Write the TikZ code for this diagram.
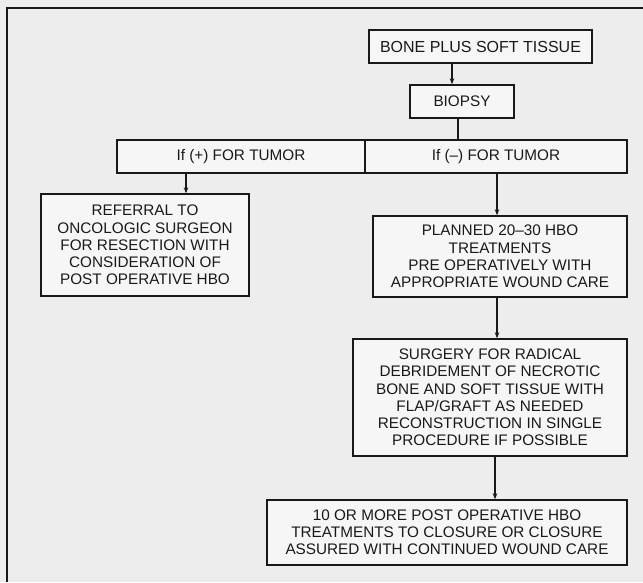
\documentclass[tikz,border=0pt]{standalone}
\usepackage{fontspec}
\setmainfont{Liberation Sans}
\usetikzlibrary{arrows.meta}
\definecolor{pagebg}{gray}{0.93}
\definecolor{boxbg}{gray}{0.965}
\definecolor{ink}{gray}{0.1}
\tikzset{
  flowbox/.style={draw=ink, line width=1.4pt, fill=boxbg, text=ink, align=center,
    inner sep=0pt, font=\fontsize{15.3}{17.2}\selectfont},
  link/.style={draw=ink, line width=1.4pt},
  arr/.style={link, -{Stealth[length=6pt,width=4.5pt]}},
}
\begin{document}
\begin{tikzpicture}[x=1pt,y=-1pt]
\fill[pagebg] (0,0) rectangle (643,582);
\useasboundingbox (0,0) rectangle (643,582);
% page frame (left and top edges visible)
\draw[ink, line width=1.5pt] (643,8) -- (7,8) -- (7,582);

\node[flowbox, minimum width=223pt, minimum height=33pt, font=\fontsize{16}{18}\selectfont] (bone) at (480.5,46.5) {BONE PLUS SOFT TISSUE};
\node[flowbox, minimum width=104pt, minimum height=33pt] (biopsy) at (462,101.5) {BIOPSY};
\node[flowbox, minimum width=248pt, minimum height=33pt] (plus) at (241,156.5) {If (+) FOR TUMOR};
\node[flowbox, minimum width=262pt, minimum height=33pt] (minus) at (496,156.5) {If (--) FOR TUMOR};
\node[flowbox, minimum width=208pt, minimum height=102pt] (referral) at (145,245)
  {REFERRAL TO\\ONCOLOGIC SURGEON\\FOR RESECTION WITH\\CONSIDERATION OF\\POST OPERATIVE HBO};
\node[flowbox, minimum width=254pt, minimum height=81pt] (planned) at (500,256.5)
  {PLANNED 20--30 HBO\\TREATMENTS\\PRE OPERATIVELY WITH\\APPROPRIATE WOUND CARE};
\node[flowbox, minimum width=274pt, minimum height=117pt] (surgery) at (490,397.5)
  {SURGERY FOR RADICAL\\DEBRIDEMENT OF NECROTIC\\BONE AND SOFT TISSUE WITH\\FLAP/GRAFT AS NEEDED\\RECONSTRUCTION IN SINGLE\\PROCEDURE IF POSSIBLE};
\node[flowbox, minimum width=360pt, minimum height=65pt] (final) at (447,532.5)
  {10 OR MORE POST OPERATIVE HBO\\TREATMENTS TO CLOSURE OR CLOSURE\\ASSURED WITH CONTINUED WOUND CARE};

% connector columns
\coordinate (xa) at (452,0);
\coordinate (xb) at (458,0);
\coordinate (xc) at (186,0);
\coordinate (xd) at (497,0);
\coordinate (xe) at (495,0);

\draw[arr] (bone.south -| xa) -- (biopsy.north -| xa);
\draw[link] (biopsy.south -| xb) -- (minus.north -| xb);
\draw[arr] (plus.south -| xc) -- (referral.north -| xc);
\draw[arr] (minus.south -| xd) -- (planned.north -| xd);
\draw[arr] (planned.south -| xd) -- (surgery.north -| xd);
\draw[arr] (surgery.south -| xe) -- (final.north -| xe);
\end{tikzpicture}
\end{document}
